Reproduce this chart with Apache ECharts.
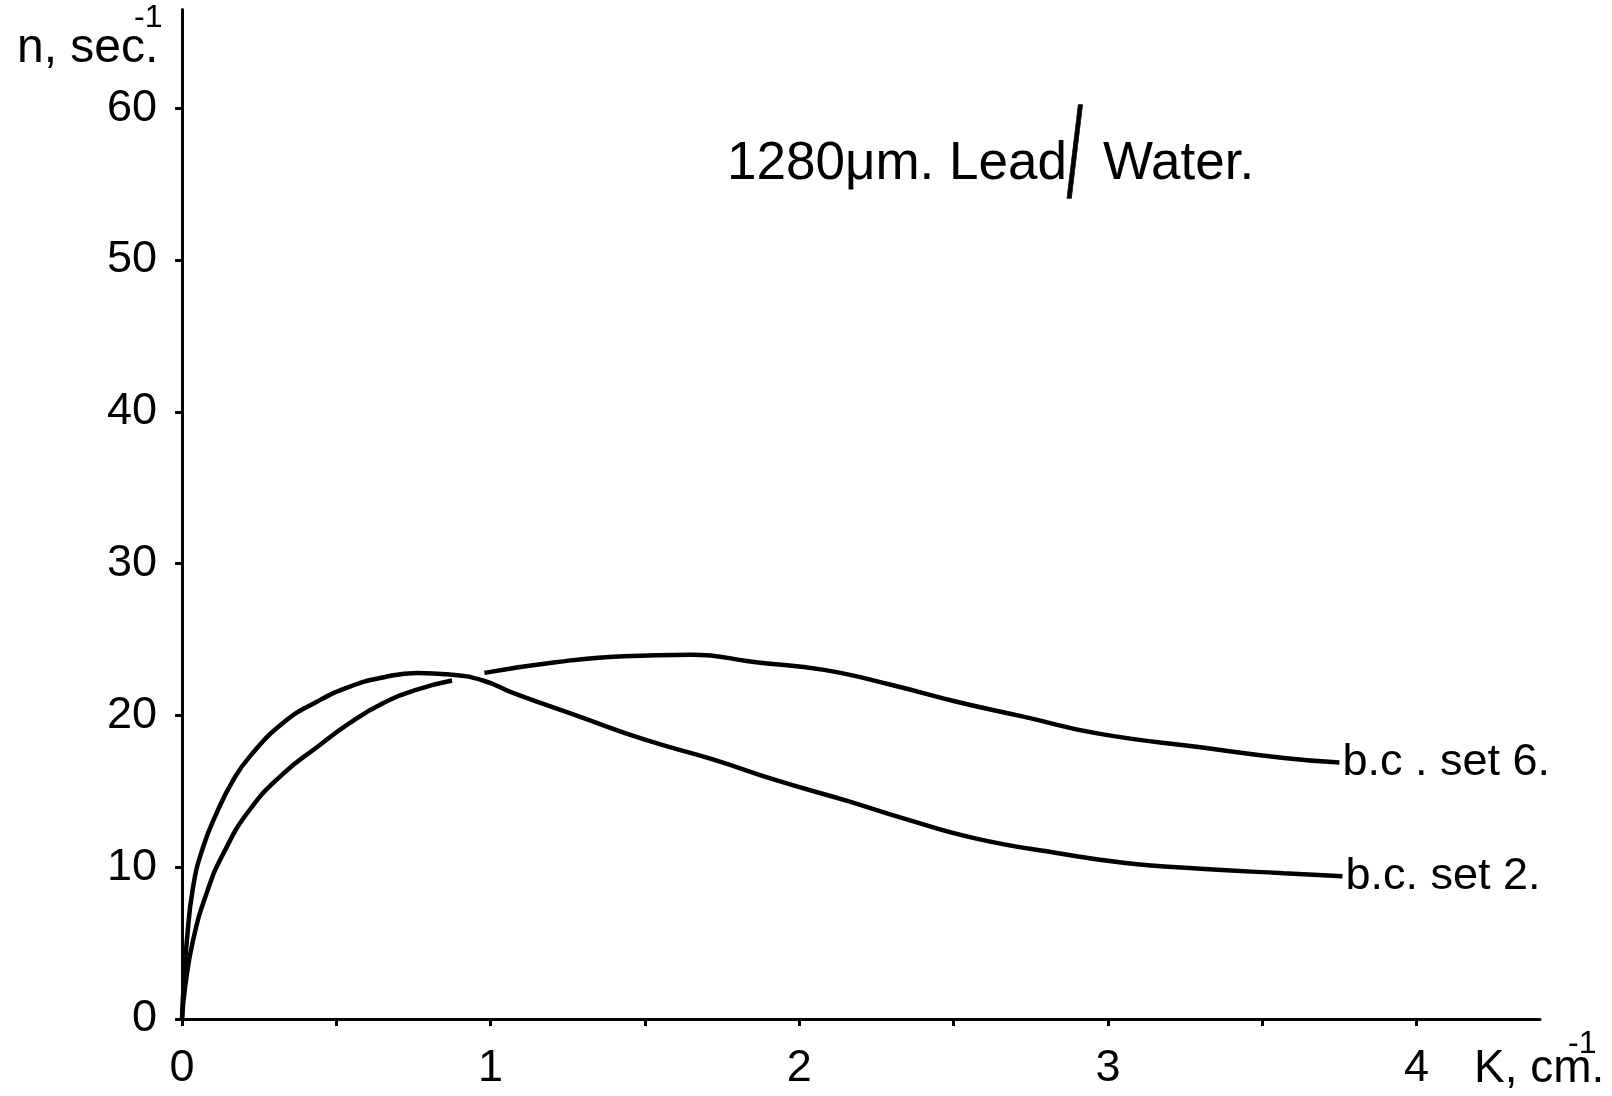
<!DOCTYPE html>
<html>
<head>
<meta charset="utf-8">
<script src="https://cdn.jsdelivr.net/npm/echarts@6/dist/echarts.min.js"></script>
<style>
html,body{margin:0;padding:0;background:#fff;}
#c{width:1612px;height:1096px;}
</style>
</head>
<body>
<div id="c"></div>
<script>
// ---- data ----
const set2K = [0, 0.006, 0.015, 0.036, 0.068, 0.113, 0.165, 0.22, 0.327, 0.437, 0.544, 0.651, 0.761, 0.868, 0.975, 1.07, 1.29, 1.50, 1.72, 1.93, 2.15, 2.34, 2.57, 2.845, 3.05, 3.30, 3.57, 3.76];
const set2N = [0, 2.5, 5.0, 8.7, 11.3, 13.6, 15.7, 17.3, 19.5, 20.9, 21.9, 22.5, 22.8, 22.7, 22.3, 21.5, 19.9, 18.4, 17.1, 15.7, 14.4, 13.2, 11.9, 10.9, 10.3, 9.9, 9.6, 9.4];

const set6K = [0, 0.01, 0.036, 0.08, 0.134, 0.22, 0.33, 0.437, 0.544, 0.651, 0.761, 0.875, 0.93, 0.98, 1.21, 1.43, 1.65, 1.86, 2.08, 2.30, 2.51, 2.73, 2.97, 3.30, 3.57, 3.75];
const set6N = [0, 2.1, 5.2, 8.3, 10.9, 13.8, 16.2, 17.9, 19.5, 20.8, 21.7, 22.3, null, 22.8, 23.5, 23.9, 24.0, 23.5, 23.0, 22.0, 20.9, 19.9, 18.8, 17.9, 17.2, 16.9];

const seriesNames = ['b.c. set 2.', 'b.c . set 6.'];
const xLabelValues = [0, 1, 2, 3, 4];
const xTickValues = [0, 0.5, 1, 1.5, 2, 2.5, 3, 3.5, 4];
const yValues = [0, 10, 20, 30, 40, 50, 60];

const FONT = "'Liberation Sans', Arial, sans-serif";

function pairs(ks, ns) { return ks.map((k, i) => [k, ns[i]]); }

const chart = echarts.init(document.getElementById('c'), null, {renderer: 'canvas'});

const lineSeries = (name, data) => ({
  name: name,
  type: 'line',
  data: data,
  showSymbol: false,
  smooth: 0.5,
  connectNulls: false,
  lineStyle: {color: '#000', width: 4.5},
  itemStyle: {color: '#000'},
  emphasis: {disabled: true},
  endLabel: {
    show: true,
    formatter: '{a}',
    color: '#000',
    fontFamily: FONT,
    fontSize: 45,
    distance: 3
  }
});

chart.setOption({
  backgroundColor: '#fff',
  animation: false,
  grid: {left: 182, right: 72, top: 9.5, bottom: 77, containLabel: false, outerBoundsMode: 'none'},
  xAxis: {
    type: 'value',
    min: 0,
    max: 4.4,
    interval: 0.5,
    splitLine: {show: false},
    axisLine: {show: true, onZero: false, lineStyle: {color: '#000', width: 3}},
    axisTick: {show: true, customValues: xTickValues, length: 7, lineStyle: {color: '#000', width: 3}},
    axisLabel: {
      customValues: xLabelValues,
      color: '#000', fontFamily: FONT, fontSize: 45, margin: 27
    }
  },
  yAxis: {
    type: 'value',
    min: 0,
    max: 66.5,
    interval: 10,
    splitLine: {show: false},
    axisLine: {show: true, onZero: false, lineStyle: {color: '#000', width: 3}},
    axisTick: {show: true, customValues: yValues, length: 7, lineStyle: {color: '#000', width: 3}},
    axisLabel: {
      customValues: yValues,
      color: '#000', fontFamily: FONT, fontSize: 45, margin: 25
    }
  },
  graphic: [
    {type: 'text', left: 17, top: 25, style: {text: 'n, sec.', font: "48px 'Liberation Sans', Arial, sans-serif", fill: '#000'}},
    {type: 'text', left: 134, top: 2, style: {text: '-1', font: "32px 'Liberation Sans', Arial, sans-serif", fill: '#000'}},
    {type: 'text', left: 1474, top: 1046, style: {text: 'K, cm.', font: "46px 'Liberation Sans', Arial, sans-serif", fill: '#000'}},
    {type: 'text', left: 1568, top: 1028, style: {text: '-1', font: "32px 'Liberation Sans', Arial, sans-serif", fill: '#000'}},
    {type: 'text', left: 727, top: 138, style: {text: '1280μm. Lead', font: "53px 'Liberation Sans', Arial, sans-serif", fill: '#000'}},
    {type: 'text', x: 1067, y: 99, scaleY: 2.25, style: {x: 0, y: 0, text: '/', verticalAlign: 'top', font: "56px 'Liberation Sans', Arial, sans-serif", fill: '#000', stroke: '#000', lineWidth: 0.6}},
    {type: 'text', left: 1103, top: 138, style: {text: 'Water.', font: "53px 'Liberation Sans', Arial, sans-serif", fill: '#000'}}
  ],
  series: [
    lineSeries(seriesNames[0], pairs(set2K, set2N)),
    lineSeries(seriesNames[1], pairs(set6K, set6N))
  ]
});
</script>
</body>
</html>
